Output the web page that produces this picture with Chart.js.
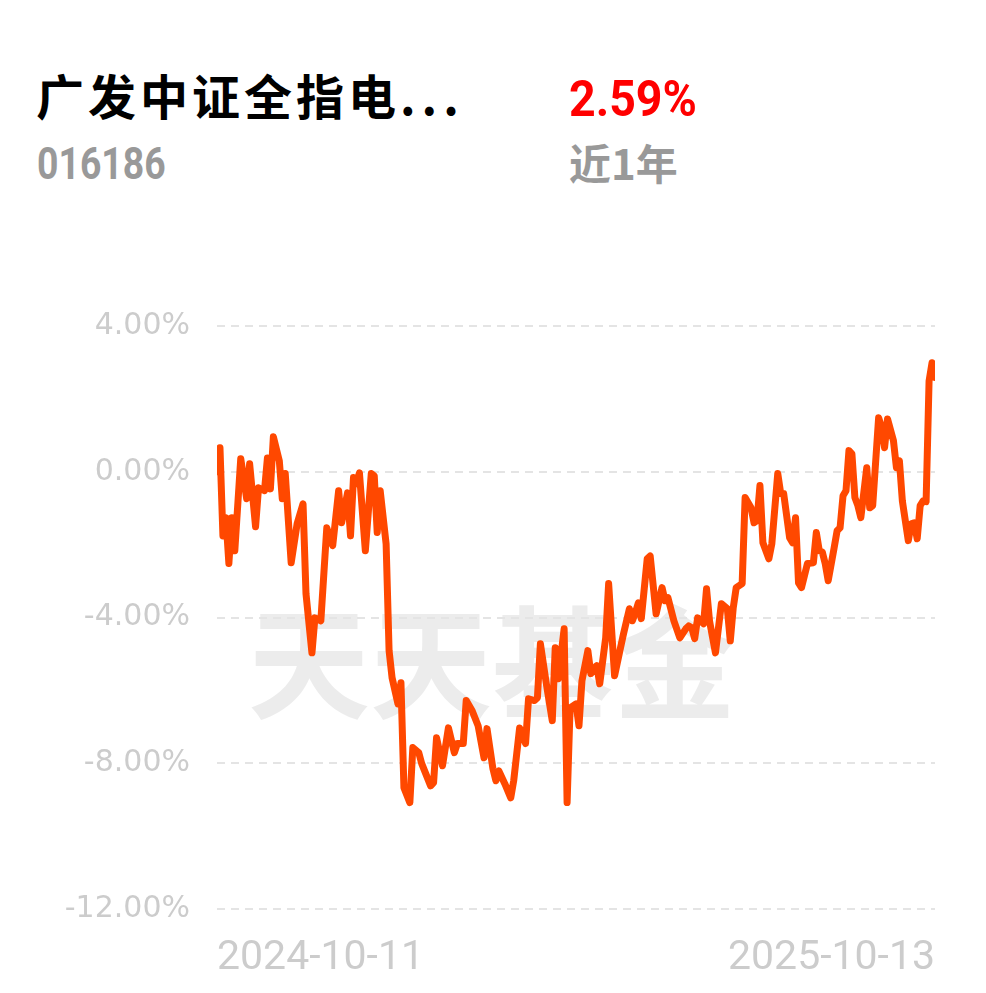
<!DOCTYPE html>
<html>
<head>
<meta charset="utf-8">
<script src="https://cdn.jsdelivr.net/npm/chart.js@4.4.1/dist/chart.umd.min.js"></script>
<style>
  html, body { margin: 0; padding: 0; background: #fff; }
  body { width: 986px; height: 993px; position: relative; overflow: hidden; font-family: 'Noto Sans CJK SC', sans-serif; }
  .name { position: absolute; left: 36px; top: 70px; font-size: 48px; font-weight: 700; color: #000; line-height: 1; letter-spacing: 4px; }
  .name span { letter-spacing: 6px; }
  .code { position: absolute; left: 37px; top: 142px; font-family: Roboto, sans-serif; font-size: 44px; font-weight: 700; color: #999; line-height: 1; transform: scaleX(0.85); transform-origin: left top; }
  .ret { position: absolute; left: 569px; top: 74px; font-family: Roboto, sans-serif; font-size: 50px; font-weight: 700; color: #f00; line-height: 1; transform: scaleX(0.93); transform-origin: left top; }
  .period { position: absolute; left: 569px; top: 141px; font-size: 42px; font-weight: 700; color: #999; line-height: 1; }
  #wrap { position: absolute; left: 0; top: 300px; width: 986px; height: 693px; }
</style>
</head>
<body>
<div class="name">广发中证全指电<span>...</span></div>
<div class="code">016186</div>
<div class="ret" id="ret"></div>
<div class="period">近1年</div>
<div id="wrap"><canvas id="chart"></canvas></div>
<script>
const startDate = '2024-10-11';
const endDate = '2025-10-13';
const lastDay = 242;

// trading day index (0 = start date) and cumulative return in %
const dayIndex = [
  0, 1, 2, 3, 4, 5, 6, 8, 10, 11,
  13, 14, 16, 17, 18, 19, 21, 22, 23, 25,
  27, 29, 30, 32, 33, 35, 37, 39, 41, 42,
  44, 45, 46, 47, 48, 50, 52, 53, 54, 55,
  57, 58, 59, 61, 62, 63, 65, 66, 68, 69,
  72, 73, 74, 76, 78, 80, 81, 83, 84, 86,
  88, 90, 91, 93, 94, 95, 97, 99, 100, 102,
  104, 105, 107, 108, 109, 111, 113, 114, 115, 117,
  118, 119, 121, 122, 123, 125, 126, 128, 129, 131,
  132, 134, 136, 137, 139, 140, 141, 142, 143, 145,
  146, 148, 150, 151, 152, 154, 156, 158, 159, 160,
  161, 162, 164, 165, 166, 168, 170, 172, 173, 174,
  175, 177, 178, 180, 181, 182, 183, 184, 186, 187,
  189, 190, 191, 193, 194, 195, 196, 197, 199, 201,
  202, 203, 204, 205, 206, 208, 209, 210, 211, 212,
  213, 214, 215, 216, 217, 219, 220, 221, 223, 224,
  225, 226, 228, 229, 230, 231, 233, 234, 235, 236,
  237, 238, 239, 240, 241, 242
];
const returns = [
  0.00, 0.66, -1.76, -1.26, -2.52, -1.26, -2.17, 0.36, -0.74, 0.22,
  -1.51, -0.44, -0.52, 0.38, -0.47, 0.96, 0.30, -0.74, -0.05, -2.50,
  -1.43, -0.88, -3.35, -4.97, -4.01, -4.09, -1.54, -2.03, -0.52, -1.40,
  -0.58, -1.76, -0.16, -0.33, -0.03, -2.17, -0.05, -0.11, -1.67, -0.52,
  -1.98, -4.91, -5.65, -6.37, -5.79, -8.67, -9.08, -7.57, -7.71, -8.01,
  -8.62, -8.53, -7.30, -8.07, -7.03, -7.71, -7.46, -7.46, -6.28, -6.56,
  -6.97, -7.85, -7.05, -8.15, -8.48, -8.21, -8.56, -8.95, -8.48, -7.03,
  -7.46, -6.23, -6.28, -6.20, -4.72, -5.82, -6.83, -4.83, -5.68, -4.31,
  -9.08, -6.48, -6.37, -6.97, -5.74, -4.91, -5.54, -5.32, -5.82, -4.56,
  -3.07, -5.60, -4.83, -4.45, -3.76, -4.09, -3.87, -3.60, -4.03, -2.39,
  -2.31, -3.90, -3.18, -3.54, -3.46, -4.09, -4.56, -4.31, -4.23, -4.28,
  -4.58, -4.01, -4.17, -3.21, -4.09, -4.97, -3.62, -3.76, -4.64, -3.73,
  -3.18, -3.07, -0.71, -0.99, -1.40, -1.34, -0.38, -1.95, -2.39, -1.98,
  -0.05, -0.60, -0.60, -1.81, -1.95, -1.26, -3.05, -3.18, -2.52, -2.50,
  -1.67, -2.17, -2.20, -2.52, -2.99, -2.09, -1.62, -1.54, -0.66, -0.52,
  0.58, 0.49, -0.71, -0.93, -1.26, 0.11, -0.99, -0.93, 1.48, 1.22,
  0.66, 1.45, 0.85, 0.11, 0.30, -0.80, -1.89, -1.43, -1.40, -1.84,
  -0.93, -0.80, -0.82, 2.49, 2.99, 2.59
];
const yTicks = [-12, -8, -4, 0, 4];

document.getElementById('ret').textContent = returns[returns.length - 1].toFixed(2) + '%';

// faint "天天基金" watermark behind the grid
const watermark = {
  id: 'watermark',
  beforeDraw(chart) {
    const ctx = chart.ctx;
    ctx.save();
    ctx.font = "bold 122px 'Noto Sans CJK SC'";
    ctx.fillStyle = '#ececec';
    ctx.textAlign = 'center';
    ctx.textBaseline = 'middle';
    ctx.fillText('天天基金', 492, 363);
    ctx.restore();
  }
};

new Chart(document.getElementById('chart'), {
  type: 'line',
  data: {
    datasets: [{
      data: dayIndex.map((d, i) => ({ x: d, y: returns[i] })),
      borderColor: '#ff4800',
      borderWidth: 7,
      pointRadius: 0,
      tension: 0,
      borderJoinStyle: 'round',
      borderCapStyle: 'round'
    }]
  },
  options: {
    responsive: true,
    maintainAspectRatio: false,
    animation: false,
    layout: { padding: { top: 26, right: 51, left: 0, bottom: 0 } },
    plugins: { legend: { display: false }, tooltip: { enabled: false } },
    scales: {
      x: {
        type: 'linear',
        min: 0,
        max: lastDay,
        grid: { display: false },
        border: { display: false },
        afterBuildTicks: s => { s.ticks = [{ value: 0 }, { value: lastDay }]; },
        afterFit: s => { s.height = 84; },
        ticks: {
          align: 'inner',
          maxRotation: 0,
          autoSkip: false,
          padding: 17,
          color: '#cccccc',
          font: { family: 'Roboto', size: 41 },
          callback: v => v === 0 ? startDate : endDate
        }
      },
      y: {
        min: -12,
        max: 4,
        afterBuildTicks: s => { s.ticks = yTicks.map(v => ({ value: v })); },
        afterFit: s => { s.width = 217; s.paddingTop = 0; s.paddingBottom = 0; },
        grid: { color: '#e4e4e4', lineWidth: 2, drawTicks: false },
        border: { display: false, dash: [8, 6] },
        ticks: {
          padding: 27,
          color: '#cccccc',
          font: { family: 'DejaVu Sans', size: 30 },
          callback: v => v.toFixed(2) + '%'
        }
      }
    }
  },
  plugins: [watermark]
});
</script>
</body>
</html>
